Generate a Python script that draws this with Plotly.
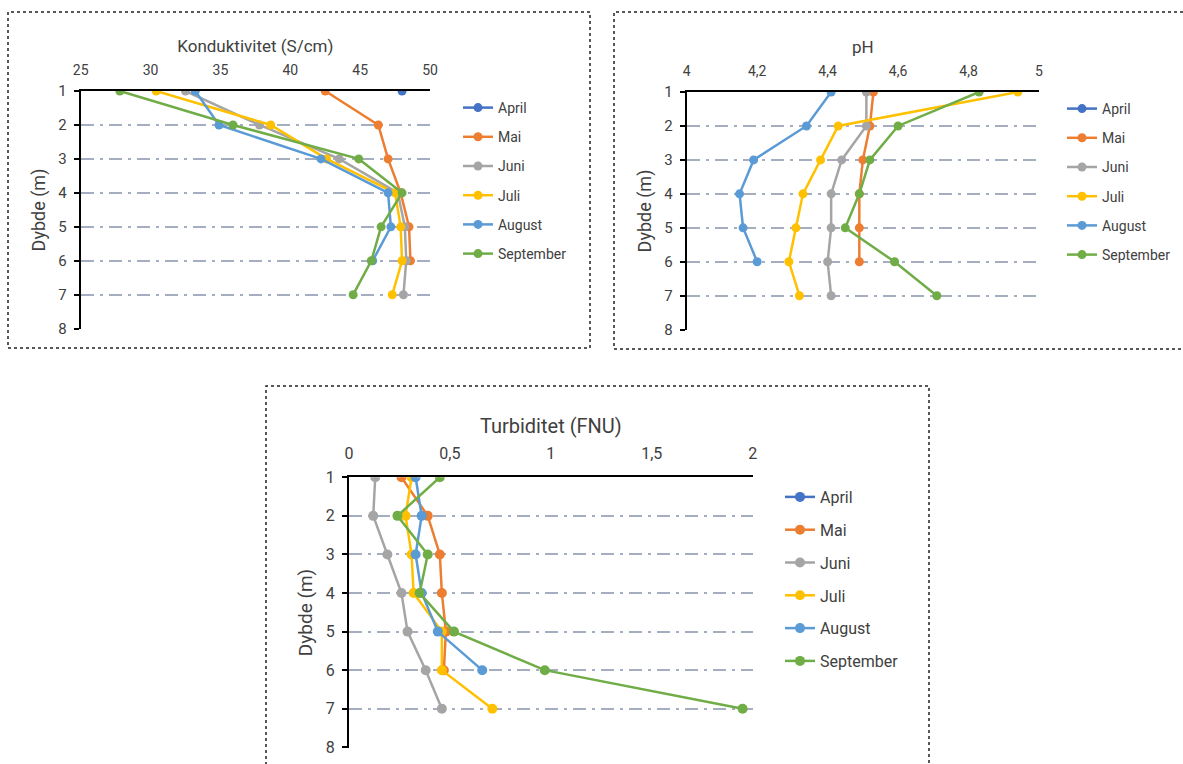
import plotly.graph_objects as go

# ---------------- data ----------------
depth = [1, 2, 3, 4, 5, 6, 7]
months = ["April", "Mai", "Juni", "Juli", "August", "September"]
colors = ["#4472C4", "#ED7D31", "#A5A5A5", "#FFC000", "#5B9BD5", "#70AD47"]

kond_april = [48.0, None, None, None, None, None, None]
kond_mai = [42.5, 46.3, 47.0, 47.9, 48.5, 48.6, None]
kond_juni = [32.5, 37.8, 43.5, 47.7, 48.2, 48.3, 48.1]
kond_juli = [30.4, 38.6, 42.6, 47.5, 47.9, 48.0, 47.3]
kond_august = [33.2, 34.9, 42.2, 47.0, 47.2, 45.9, None]
kond_september = [27.8, 35.9, 44.9, 48.0, 46.5, 45.8, 44.5]

ph_april = [None, None, None, None, None, None, None]
ph_mai = [4.53, 4.52, 4.50, 4.49, 4.49, 4.49, None]
ph_juni = [4.51, 4.51, 4.44, 4.41, 4.41, 4.40, 4.41]
ph_juli = [4.94, 4.43, 4.38, 4.33, 4.31, 4.29, 4.32]
ph_august = [4.41, 4.34, 4.19, 4.15, 4.16, 4.20, None]
ph_september = [4.83, 4.60, 4.52, 4.49, 4.45, 4.59, 4.71]

turb_april = [None, None, None, None, None, None, None]
turb_mai = [0.26, 0.39, 0.45, 0.46, 0.48, 0.47, None]
turb_juni = [0.13, 0.12, 0.19, 0.26, 0.29, 0.38, 0.46]
turb_juli = [0.31, 0.28, 0.31, 0.32, 0.46, 0.46, 0.71]
turb_august = [0.33, 0.36, 0.33, 0.36, 0.44, 0.66, None]
turb_september = [0.45, 0.24, 0.39, 0.35, 0.52, 0.97, 1.95]

kond = [kond_april, kond_mai, kond_juni, kond_juli, kond_august, kond_september]
ph = [ph_april, ph_mai, ph_juni, ph_juli, ph_august, ph_september]
turb = [turb_april, turb_mai, turb_juni, turb_juli, turb_august, turb_september]

depth_ticks = [1, 2, 3, 4, 5, 6, 7, 8]
kond_ticks = [25, 30, 35, 40, 45, 50]
ph_ticks = [4, 4.2, 4.4, 4.6, 4.8, 5]
ph_ticktext = ["4", "4,2", "4,4", "4,6", "4,8", "5"]
turb_ticks = [0, 0.5, 1, 1.5, 2]
turb_ticktext = ["0", "0,5", "1", "1,5", "2"]

# ---------------- figure ----------------
W, H = 1183, 764
FONT = "Roboto"
TXT = "#404040"

fig = go.Figure()

panels = [
    (kond, "x", "y", "legend"),
    (ph, "x2", "y2", "legend2"),
    (turb, "x3", "y3", "legend3"),
]
for p, (data, xa, ya, lg) in enumerate(panels):
    msize = 9 if p < 2 else 10
    for i, m in enumerate(months):
        fig.add_trace(go.Scatter(
            x=data[i], y=depth, name=m, mode="lines+markers",
            xaxis=xa, yaxis=ya, legend=lg,
            legendgroup=f"p{p}_{m}",
            line=dict(color=colors[i], width=2.5),
            marker=dict(color=colors[i], size=msize),
            connectgaps=False,
        ))


def px_x(v):
    return v / W


def px_y(v):
    return 1 - v / H


grid = dict(showgrid=True, gridcolor="#A5AEC0", gridwidth=1.5, griddash="13px,6px,3px,6px")


def yaxis(top, bottom, size, anchor):
    return dict(
        domain=[px_y(bottom), px_y(top)], range=[8.01, 1], anchor=anchor,
        tickvals=depth_ticks, ticks="outside", ticklen=5, tickwidth=1.5,
        tickcolor="black", showline=True, linecolor="black", linewidth=2,
        zeroline=False, tickfont=dict(size=size, color=TXT, family=FONT),
        ticklabelstandoff=4, automargin=False,
        title=dict(text="Dybde (m)", font=dict(size=size + 3, color=TXT, family=FONT), standoff=8),
        **grid,
    )


def xaxis(left, right, rng, tickvals, ticktext, title, tsize, titlesize, anchor, so):
    return dict(
        domain=[px_x(left), px_x(right)], range=rng, anchor=anchor, side="top",
        tickvals=tickvals, ticktext=ticktext, ticks="", showgrid=False,
        showline=True, linecolor="black", linewidth=2, zeroline=False,
        tickfont=dict(size=tsize, color=TXT, family=FONT),
        ticklabelstandoff=so, automargin=False,
        title=dict(text=title, font=dict(size=titlesize, color=TXT, family=FONT), standoff=5),
    )


fig.update_layout(
    width=W, height=H,
    margin=dict(l=0, r=0, t=0, b=0),
    paper_bgcolor="white", plot_bgcolor="white",
    font=dict(family=FONT, color=TXT),
    xaxis=xaxis(80.7, 430, [25, 50], kond_ticks, [str(t) for t in kond_ticks],
                "Konduktivitet (S/cm)", 14, 17, "y", 8),
    yaxis=yaxis(91, 329, 15, "x"),
    xaxis2=xaxis(686.7, 1039, [4, 5], ph_ticks, ph_ticktext, "pH", 14, 17, "y2", 8),
    yaxis2=yaxis(92, 330, 15, "x2"),
    xaxis3=xaxis(349, 752.7, [0, 2], turb_ticks, turb_ticktext,
                 "Turbiditet (FNU)", 16, 20, "y3", 10),
    yaxis3=yaxis(477.3, 747.7, 16, "x3"),
    legend=dict(x=px_x(458), y=px_y(92), xanchor="left", yanchor="top",
                font=dict(size=14, color=TXT, family=FONT), tracegroupgap=8,
                bgcolor="rgba(0,0,0,0)"),
    legend2=dict(x=px_x(1062), y=px_y(93), xanchor="left", yanchor="top",
                 font=dict(size=14, color=TXT, family=FONT), tracegroupgap=8,
                 bgcolor="rgba(0,0,0,0)"),
    legend3=dict(x=px_x(780), y=px_y(480), xanchor="left", yanchor="top",
                 font=dict(size=16, color=TXT, family=FONT), tracegroupgap=9,
                 bgcolor="rgba(0,0,0,0)"),
    showlegend=True,
)

# dotted panel borders
borders = [(8, 12, 590, 348), (614, 12, 1195, 349), (266, 386, 929, 790)]
for (x0, y0, x1, y1) in borders:
    fig.add_shape(type="rect", xref="paper", yref="paper",
                  x0=px_x(x0), x1=px_x(x1), y0=px_y(y1), y1=px_y(y0),
                  line=dict(color="#222222", width=1.5, dash="dot"),
                  fillcolor="rgba(0,0,0,0)", layer="below")

fig.write_html(
    "out.html",
    config={"displayModeBar": False},
    post_script=["document.body.style.margin='0';document.body.style.overflow='hidden';"],
)
